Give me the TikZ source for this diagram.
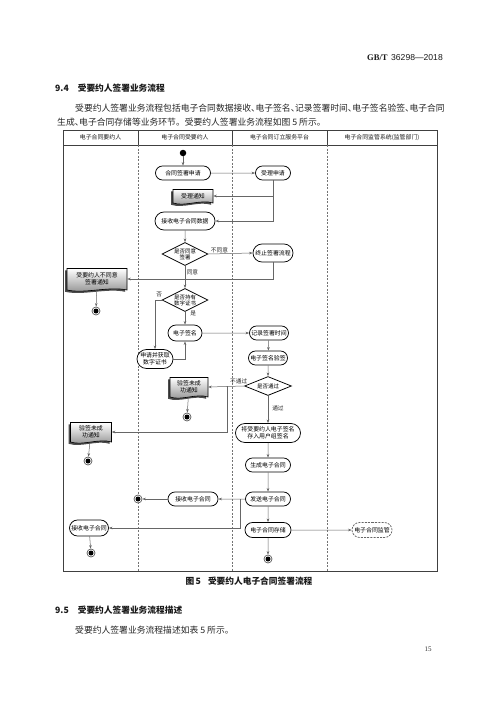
\documentclass[tikz,border=0pt]{standalone}
\usepackage{fontspec}
\setmainfont{Noto Sans CJK SC}
\newfontfamily\lserif{Liberation Serif}
\newfontfamily\lsans{Liberation Sans}
\usetikzlibrary{shapes.geometric,shapes.misc,arrows.meta,calc}
\newcommand\dfont{\fontsize{5.9}{6.6}\selectfont}
\newcommand\pz{\makebox[4.4pt][l]{、}}
\tikzset{
  every node/.style={inner sep=0pt},
  lanesep/.style={draw=black!55, line width=0.4pt, dash pattern=on 2pt off 1.5pt},
  act/.style={rounded rectangle, draw=black, line width=0.75pt, fill=white, font=\dfont, align=center, minimum height=14pt, inner xsep=2pt},
  dia/.style={diamond, draw=black, line width=0.75pt, fill=white},
  dlab/.style={font=\fontsize{5.5}{6.1}\selectfont, align=center},
  flow/.style={draw=black!60, line width=0.5pt, -{Stealth[length=3.6pt,width=2.6pt]}},
  lbl/.style={font=\fontsize{5.7}{6.2}\selectfont, black!85},
  startdot/.style={circle, fill=black, minimum size=6.5pt},
  enddot/.style={circle, draw=black!65, fill=white, line width=0.7pt, minimum size=8pt,
     path picture={\fill[black] (path picture bounding box.center) circle (2.5pt);}},
  doctext/.style={font=\dfont, align=center},
  body/.style={font=\fontsize{8.8}{10}\selectfont, black!85, anchor=west},
  head/.style={font=\fontsize{8.7}{10}\selectfont\bfseries, black!90, anchor=west},
  hcol/.style={font=\fontsize{5.9}{6.5}\selectfont, black!90},
}
% name, cx, cy, w, h, text
\newcommand\docnode[6]{%
  \pgfmathsetmacro\dl{#2-#4/2}\pgfmathsetmacro\dr{#2+#4/2}%
  \pgfmathsetmacro\dt{#3-#5/2}\pgfmathsetmacro\db{#3+#5/2-1.5}%
  \fill[black!70] (\dl-1.8,\dt+1.8) -- (\dr-1.8,\dt+1.8) -- (\dr-1.8,\db+1.8)
     .. controls (\dr-1.8-#4*0.3,\db+1.8-4) and (\dl-1.8+#4*0.3,\db+1.8+4) .. (\dl-1.8,\db+1.8) -- cycle;
  \shade[top color=white, bottom color=black!45, draw=black, line width=0.6pt]
     (\dl,\dt) -- (\dr,\dt) -- (\dr,\db)
     .. controls (\dr-#4*0.3,\db-4) and (\dl+#4*0.3,\db+4) .. (\dl,\db) -- cycle;
  \node[doctext, minimum width=#4, minimum height=#5] (#1) at (#2,#3-1) {#6};%
}
\begin{document}
\begin{tikzpicture}[x=1pt,y=-1pt]
\useasboundingbox (0,0) rectangle (500,707);
\fill[white] (0,0) rectangle (500,707);

% page texts
\node[anchor=east, font=\fontsize{8.6}{10}\selectfont, black!90] (hdr) at (443,58)
  {{\lserif\bfseries GB/T}\hspace{3.5pt}{\lsans 36298—2018}};
\node[head] (h94) at (55,88) {9.4\hspace{9pt}受要约人签署业务流程};
\node[body] (p1) at (75,108) {受要约人签署业务流程包括电子合同数据接收\pz 电子签名\pz 记录签署时间\pz 电子签名验签\pz 电子合同};
\node[body] (p2) at (57,122.5) {生成\pz 电子合同存储等业务环节。受要约人签署业务流程如图 5 所示。};

% swimlanes
\draw[black!75, line width=0.9pt] (63,130) rectangle (437,571);
\draw[black!75, line width=0.7pt] (63,145) -- (437,145);
\draw[black!75, line width=0.6pt] (138,130) -- (138,145) (232,130) -- (232,145) (327,130) -- (327,145);
\draw[lanesep] (138,145) -- (138,571) (232,145) -- (232,571) (327,145) -- (327,571);
\node[hcol] (l1) at (100.5,137.5) {电子合同要约人};
\node[hcol] (l2) at (185,137.5) {电子合同受要约人};
\node[hcol] (l3) at (279.5,137.5) {电子合同订立服务平台};
\node[hcol] (l4) at (382,137.5) {电子合同监管系统(监管部门)};

% nodes
\node[startdot] (s) at (183,153) {};
\node[act, minimum width=59] (a1) at (183,173) {合同签署申请};
\node[act, minimum width=39] (b1) at (273,173) {受理申请};
\docnode{n1}{193}{197}{40}{15}{受理通知}
\node[act, minimum width=64, minimum height=18] (a2) at (185,221) {接收电子合同数据};
\node[dia, minimum width=46, minimum height=23, label={[dlab]center:是否同意\\签署}] (d1) at (185,254) {};
\node[act, minimum width=44, minimum height=18] (b2) at (273,253) {终止签署流程};
\docnode{n2}{97}{280}{60}{23}{受要约人不同意\\签署通知}
\node[enddot] (e1) at (96,311) {};
\node[dia, minimum width=46, minimum height=23, label={[dlab]center:是否持有\\数字证书}] (d2) at (185,300) {};
\node[act, minimum width=38, minimum height=16] (a3) at (185,333) {电子签名};
\node[act, minimum width=40, minimum height=19] (a4) at (155,359) {申请并获取\\数字证书};
\node[act, minimum width=43] (b3) at (269,333) {记录签署时间};
\node[act, minimum width=43] (b4) at (268,358) {电子签名验签};
\node[dia, minimum width=47, minimum height=19, label={[dlab]center:是否通过}] (d3) at (268,386) {};
\docnode{n3}{189}{388}{38}{21}{验签未成\\功通知}
\node[enddot] (e2) at (187,417) {};
\docnode{n4}{91}{433}{41}{21}{验签未成\\功通知}
\node[enddot] (e3) at (88,461) {};
\node[act, minimum width=69, minimum height=19] (b5) at (268,433) {将受要约人电子签名\\存入用户组签名};
\node[act, minimum width=49] (b6) at (268,465) {生成电子合同};
\node[act, minimum width=49] (b7) at (268,499) {发送电子合同};
\node[act, minimum width=54] (a5) at (193,499) {接收电子合同};
\node[enddot] (e4) at (138,499) {};
\node[act, minimum width=43, minimum height=16] (c1) at (89,528) {接收电子合同};
\node[enddot] (e5) at (91,553) {};
\node[act, minimum width=50, minimum height=15] (b8) at (268,530) {电子合同存储};
\node[enddot] (e6) at (268,559) {};
\node[act, draw=black!60, dash pattern=on 2pt off 1.2pt, minimum width=44, minimum height=15] (m1) at (372,530) {电子合同监管};

\coordinate (j3) at (227,386);
\coordinate (j4) at (240,499);

% connectors
\draw[flow] (s) -- (a1);
\draw[flow] (a1) -- (b1);
\draw[flow] (b1.south) |- (n1.east);
\draw[flow] (b1.south) |- (a2.east);
\draw[flow] (a2) -- (d1);
\draw[flow] (d1.east) -- node[lbl, pos=0.25, above=1pt] {不同意} (b2.west);
\draw[flow] (b2.south) |- (n2.east);
\draw[flow] (n2) -- (e1);
\draw[flow] (d1) -- node[lbl, pos=0.3, right=1.5pt] {同意} (d2);
\draw[flow] (d2.west) -| node[lbl, pos=0.5, anchor=south west, xshift=1pt, yshift=3pt] {否} (a4.north);
\draw[flow] (d2) -- node[lbl, pos=0.15, right=5pt] {是} (a3);
\draw[flow] (a4.east) -| (a3.south);
\draw[flow] (a3) -- (b3);
\draw[flow] (b3) -- (b4);
\draw[flow] (b4) -- (d3);
\draw[flow] (d3.west) -- node[lbl, pos=0.15, above=1.5pt] {不通过} (n3.east);
\draw[flow] (j3) |- (n4.east);
\draw[flow] (n3) -- (e2);
\draw[flow] (n4) -- (e3);
\draw[flow] (d3) -- node[lbl, pos=0.45, right=4pt] {通过} (b5);
\draw[flow] (b5) -- (b6);
\draw[flow] (b6) -- (b7);
\draw[flow] (b7) -- (a5);
\draw[flow] (a5) -- (e4);
\draw[flow] (j4) |- (c1.east);
\draw[flow] (c1) -- (e5);
\draw[flow] (b7) -- (b8);
\draw[flow] (b8) -- (e6);
\draw[flow] (b8) -- (m1);

% caption and following text
\node[font=\fontsize{8.7}{10}\selectfont\bfseries, black!90] (cap) at (249,581) {图\,5\hspace{7pt}受要约人电子合同签署流程};
\node[head] (h95) at (55,610) {9.5\hspace{9pt}受要约人签署业务流程描述};
\node[body] (p3) at (75,630) {受要约人签署业务流程描述如表 5 所示。};
\node[font=\fontsize{7}{8}\selectfont\lserif, black!80] (pg) at (428,649) {15};
\end{tikzpicture}
\end{document}
